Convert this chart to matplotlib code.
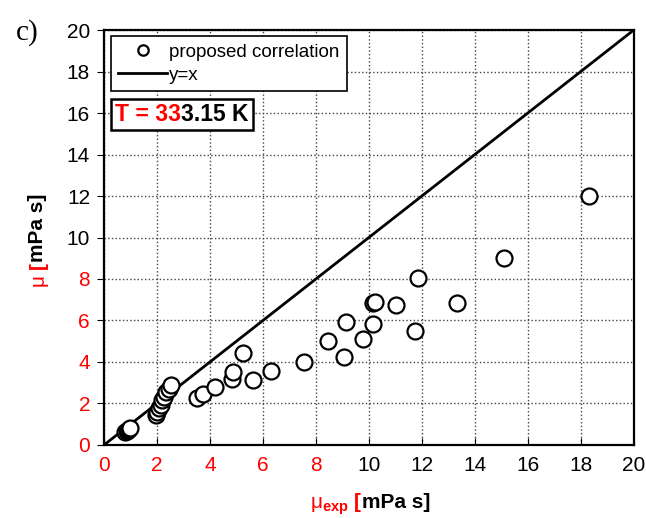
import matplotlib
matplotlib.use("Agg")
import matplotlib.pyplot as plt
from matplotlib.offsetbox import TextArea, HPacker, AnchoredOffsetbox
import numpy as np

plt.rcParams['font.family'] = ['Liberation Sans', 'DejaVu Sans']
plt.rcParams['mathtext.fontset'] = 'custom'
plt.rcParams['mathtext.rm'] = 'Liberation Sans'
plt.rcParams['mathtext.bf'] = 'Liberation Sans:bold'

# experimental vs. correlated viscosity at 333.15 K
mu_exp = [0.80, 0.85, 0.90, 0.95, 1.00,
          1.95, 2.01, 2.07, 2.14, 2.20, 2.26, 2.33, 2.45, 2.52,
          3.50, 3.72, 4.19, 4.82, 4.86, 5.26, 5.64, 6.29, 7.55,
          8.44, 9.07, 9.13, 9.76, 10.16, 10.16, 10.23, 11.04,
          11.76, 11.86, 13.31, 15.11, 18.30]
mu_calc = [0.62, 0.66, 0.70, 0.75, 0.80,
           1.45, 1.61, 1.77, 1.93, 2.17, 2.33, 2.57, 2.72, 2.89,
           2.25, 2.44, 2.81, 3.18, 3.53, 4.42, 3.13, 3.58, 4.02,
           5.01, 4.22, 5.94, 5.09, 5.83, 6.83, 6.88, 6.75,
           5.51, 8.03, 6.83, 9.03, 12.00]
ticks = np.arange(0, 21, 2)

fig = plt.figure(figsize=(6.46, 5.18), dpi=100)
ax = fig.add_axes([0.161, 0.141, 0.820, 0.801])

ax.plot([0, 20], [0, 20], color='black', lw=2, label='y=x', zorder=3)
ax.plot(mu_exp, mu_calc, 'o', ms=11.5, mfc='white', mec='black', mew=1.6,
        label='proposed correlation', zorder=4)

ax.set_xlim(0, 20)
ax.set_ylim(0, 20)
ax.set_xticks(ticks)
ax.set_yticks(ticks)
ax.grid(True, linestyle=':', color='#444444', lw=1)
ax.tick_params(axis='x', direction='in', length=5, labelsize=15, pad=8)
ax.tick_params(axis='y', direction='out', length=5, labelsize=15, pad=5)
for lab in ax.get_xticklabels() + ax.get_yticklabels():
    if float(lab.get_text()) < 9:
        lab.set_color('red')
for s in ax.spines.values():
    s.set_linewidth(1.6)

h, l = ax.get_legend_handles_labels()
leg = ax.legend(h[::-1], l[::-1], loc='upper left', bbox_to_anchor=(0.013, 0.985),
                fontsize=13.5, markerscale=0.65, handlelength=2.6, handletextpad=0.1,
                labelspacing=0.3, fancybox=False, edgecolor='black', framealpha=1,
                borderaxespad=0)
leg.get_frame().set_linewidth(1.2)

# temperature box, part red part black
t1 = TextArea("T = 33", textprops=dict(color='red', fontsize=16.5, fontweight='bold'))
t2 = TextArea("3.15 K", textprops=dict(color='black', fontsize=16.5, fontweight='bold'))
box = AnchoredOffsetbox(loc='upper left', child=HPacker(children=[t1, t2], pad=0, sep=0),
                        pad=0.3, borderpad=0, frameon=True,
                        bbox_to_anchor=(0.013, 0.834), bbox_transform=ax.transAxes)
box.patch.set_linewidth(1.8)
box.patch.set_edgecolor('black')
ax.add_artist(box)

# axis labels, red and black parts
fig.canvas.draw()
r = fig.canvas.get_renderer()
W, H = fig.bbox.width, fig.bbox.height

xa = fig.text(0, 0, r"$\mathrm{\mu}_{\mathbf{exp}}$ [", color='red', fontsize=15,
              fontweight='bold', va='baseline')
xb = fig.text(0, 0, "mPa s]", color='black', fontsize=15, fontweight='bold', va='baseline')
wa = xa.get_window_extent(r).width
wb = xb.get_window_extent(r).width
x0 = 370 / W - (wa + wb) / 2 / W
yb = 1 - 508 / H
xa.set_position((x0, yb))
xb.set_position((x0 + wa / W, yb))

ya = fig.text(0, 0, r"$\mathrm{\mu}$ [", color='red', fontsize=15, fontweight='bold',
              rotation=90, ha='left', va='bottom')
yb2 = fig.text(0, 0, "mPa s]", color='black', fontsize=15, fontweight='bold',
               rotation=90, ha='left', va='bottom')
ha_ = ya.get_window_extent(r).height
hb_ = yb2.get_window_extent(r).height
y0 = 1 - 241 / H - (ha_ + hb_) / 2 / H
xl = 28 / W
ya.set_position((xl, y0))
yb2.set_position((xl, y0 + ha_ / H))

fig.text(16 / W, 1 - 40 / H, "c)", fontsize=21, family='Liberation Serif')

fig.savefig("out.png", dpi=100)
